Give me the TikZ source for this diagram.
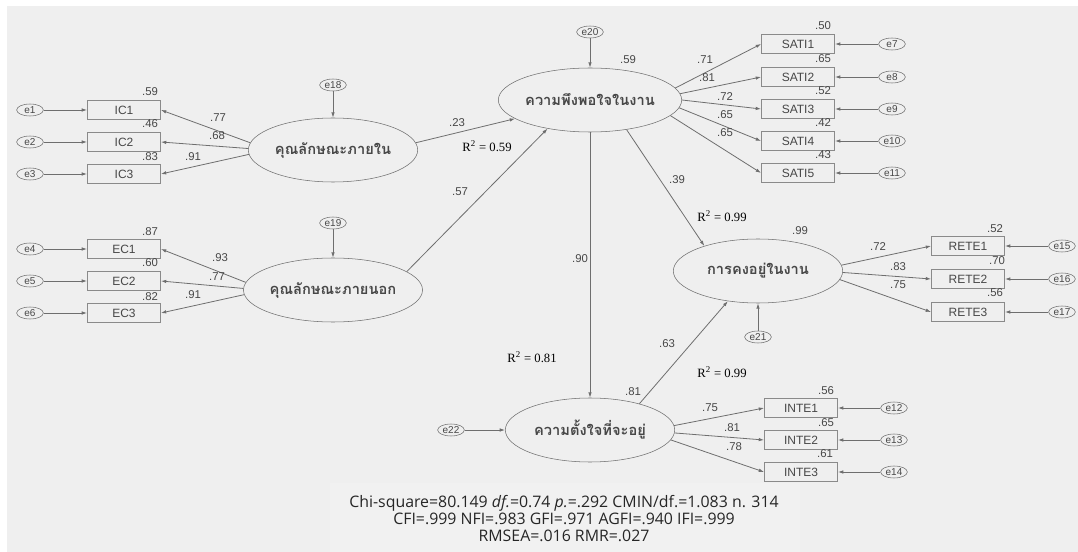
\documentclass[tikz,border=0pt]{standalone}
\usepackage{fontspec}
\setmainfont{Liberation Sans}
\newfontfamily\thaifont[Script=Thai]{Loma}
\newfontfamily\rfont{Liberation Serif}
\newfontfamily\statfont{Open Sans}
\usetikzlibrary{shapes.geometric,arrows.meta}
\definecolor{bggray}{HTML}{EFEFEF}
\definecolor{statbg}{HTML}{F1F1F1}
\definecolor{linegray}{HTML}{6E6E6E}
\definecolor{textgray}{HTML}{474747}
\definecolor{boxgray}{HTML}{8A8A8A}
\begin{document}
\begin{tikzpicture}[x=0.75pt,y=-0.75pt,
  latent/.style={ellipse, draw=linegray, fill=bggray, minimum width=127pt, minimum height=48pt,
    inner sep=0pt, text=textgray, font=\thaifont\bfseries\fontsize{11}{12}\selectfont},
  obs/.style={draw=boxgray, fill=bggray, minimum width=55pt, minimum height=14pt, inner sep=0pt,
    text=textgray, font=\fontsize{9}{10}\selectfont},
  err/.style={ellipse, draw=linegray, fill=bggray, minimum width=20pt, minimum height=9pt,
    inner sep=0.3pt, text=textgray, font=\fontsize{7.5}{8}\selectfont},
  link/.style={draw=linegray, line width=0.6pt, -{Latex[length=4pt,width=2.6pt]}},
  coef/.style={inner sep=0pt, text=textgray, font=\fontsize{8.5}{9}\selectfont},
  rsq/.style={inner sep=0pt, font=\rfont\fontsize{9.5}{10}\selectfont},
  fitstats/.style={align=center, inner sep=0pt, text=black!85, font=\statfont\fontsize{11.9}{12.75}\selectfont}]
  \useasboundingbox (0,0) rectangle (1078,552);

  % Background
  \fill[white] (0,0) rectangle (1078,552);
  \fill[bggray] (7,6) rectangle (1078,552);
  \fill[statbg] (330,483) rectangle (800,552);

  % Latent variables
  \node[latent] (ic) at (333,150) {คุณลักษณะภายใน};
  \node[latent] (ec) at (333,290) {คุณลักษณะภายนอก};
  \node[latent] (sat) at (590,100) {ความพึงพอใจในงาน};
  \node[latent] (rete) at (758,271) {การคงอยู่ในงาน};
  \node[latent] (int) at (590,430) {ความตั้งใจที่จะอยู่};

  % Disturbances
  \node[err] (e18) at (333,85) {e18};
  \node[err] (e19) at (333,223) {e19};
  \node[err] (e20) at (590,32) {e20};
  \node[err] (e21) at (758,337) {e21};
  \node[err] (e22) at (451,430) {e22};
  \draw[link] (e18) -- (ic);
  \draw[link] (e19) -- (ec);
  \draw[link] (e20) -- (sat);
  \draw[link] (e21) -- (rete);
  \draw[link] (e22) -- (int);

  % Left indicators
  \foreach \i/\y in {1/110,2/142,3/174} {
    \node[obs] (ic\i) at (124,\y) {IC\i};
    \node[err] (e\i) at (30,\y) {e\i};
    \draw[link] (e\i) -- (ic\i);
  }
  \foreach \i/\y [evaluate=\i as \j using int(\i+3)] in {1/249,2/281,3/313} {
    \node[obs] (ec\i) at (124,\y) {EC\i};
    \node[err] (e\j) at (30,\y) {e\j};
    \draw[link] (e\j) -- (ec\i);
  }
  \draw[link] (ic.175) -- (ic1.east);
  \draw[link] (ic.179) -- (ic2.east);
  \draw[link] (ic.183) -- (ic3.east);
  \draw[link] (ec.175) -- (ec1.east);
  \draw[link] (ec.179) -- (ec2.east);
  \draw[link] (ec.183) -- (ec3.east);

  % Satisfaction indicators
  \foreach \i/\y [evaluate=\i as \j using int(\i+6)] in {1/44,2/77,3/109,4/141,5/173} {
    \node[obs] (sati\i) at (798,\y) {SATI\i};
    \node[err] (e\j) at (892,\y) {e\j};
    \draw[link] (e\j) -- (sati\i);
  }
  \draw[link] (sat.8) -- (sati1.west);
  \draw[link] (sat.4) -- (sati2.west);
  \draw[link] (sat.0) -- (sati3.west);
  \draw[link] (sat.-5) -- (sati4.west);
  \draw[link] (sat.-11) -- (sati5.west);

  % Intention indicators
  \foreach \i/\y [evaluate=\i as \j using int(\i+11)] in {1/408,2/440,3/472} {
    \node[obs] (inte\i) at (801,\y) {INTE\i};
    \node[err] (e\j) at (894,\y) {e\j};
    \draw[link] (e\j) -- (inte\i);
  }
  \draw[link] (int.3) -- (inte1.west);
  \draw[link] (int.-2) -- (inte2.west);
  \draw[link] (int.-7) -- (inte3.west);

  % Retention indicators
  \foreach \i/\y [evaluate=\i as \j using int(\i+14)] in {1/246,2/279,3/312} {
    \node[obs] (rete\i) at (968,\y) {RETE\i};
    \node[err] (e\j) at (1062,\y) {e\j};
    \draw[link] (e\j) -- (rete\i);
  }
  \draw[link] (rete.4) -- (rete1.west);
  \draw[link] (rete.-1) -- (rete2.west);
  \draw[link] (rete.-6) -- (rete3.west);

  % Structural paths
  \draw[link] (ic.5) -- (sat.194);
  \draw[link] (ec.14) -- (sat.214);
  \draw[link] (sat.south) -- (int.north);
  \draw[link] (sat.-39) -- (rete.155);
  \draw[link] (int.28) -- (rete.225);

  % Loadings and squared correlations
  \node[coef] (r1) at (150,92) {.59};
  \node[coef] (l1) at (218,118) {.77};
  \node[coef] (r2) at (150,124) {.46};
  \node[coef] (l2) at (217,136) {.68};
  \node[coef] (r3) at (150,157) {.83};
  \node[coef] (l3) at (193,157) {.91};
  \node[coef] (r4) at (150,232) {.87};
  \node[coef] (l4) at (220,258) {.93};
  \node[coef] (r5) at (150,263) {.60};
  \node[coef] (l5) at (217,277) {.77};
  \node[coef] (r6) at (150,297) {.82};
  \node[coef] (l6) at (193,295) {.91};
  \node[coef] (rsat) at (628,60) {.59};
  \node[coef] (l7) at (705,60) {.71};
  \node[coef] (l8) at (707,78) {.81};
  \node[coef] (l9) at (725,97) {.72};
  \node[coef] (l10) at (725,115) {.65};
  \node[coef] (l11) at (725,133) {.65};
  \node[coef] (r7) at (823,26) {.50};
  \node[coef] (r8) at (823,59) {.65};
  \node[coef] (r9) at (823,91) {.52};
  \node[coef] (r10) at (823,123) {.42};
  \node[coef] (r11) at (823,155) {.43};
  \node[coef] (rrete) at (800,231) {.99};
  \node[coef] (l15) at (878,247) {.72};
  \node[coef] (l16) at (898,267) {.83};
  \node[coef] (l17) at (898,285) {.75};
  \node[coef] (r15) at (995,229) {.52};
  \node[coef] (r16) at (997,261) {.70};
  \node[coef] (r17) at (995,293) {.56};
  \node[coef] (rint) at (633,392) {.81};
  \node[coef] (l12) at (710,408) {.75};
  \node[coef] (l13) at (732,428) {.81};
  \node[coef] (l14) at (734,447) {.78};
  \node[coef] (r12) at (826,391) {.56};
  \node[coef] (r13) at (826,423) {.65};
  \node[coef] (r14) at (825,454) {.61};

  % Structural coefficients
  \node[coef] (b1) at (457,123) {.23};
  \node[coef] (b2) at (460,192) {.57};
  \node[coef] (b3) at (580,259) {.90};
  \node[coef] (b4) at (677,180) {.39};
  \node[coef] (b5) at (667,344) {.63};
  \node[rsq] (q1) at (487,146) {R\textsuperscript{2} = 0.59};
  \node[rsq] (q2) at (722,216) {R\textsuperscript{2} = 0.99};
  \node[rsq] (q3) at (532,357) {R\textsuperscript{2} = 0.81};
  \node[rsq] (q4) at (722,372) {R\textsuperscript{2} = 0.99};

  % Fit indices
  \node[fitstats] (stats) at (564,519) {Chi-square=80.149 \textit{df.}=0.74 \textit{p.}=.292 CMIN/df.=1.083 n. 314\\
    CFI=.999 NFI=.983 GFI=.971 AGFI=.940 IFI=.999\\
    RMSEA=.016 RMR=.027};
\end{tikzpicture}
\end{document}
